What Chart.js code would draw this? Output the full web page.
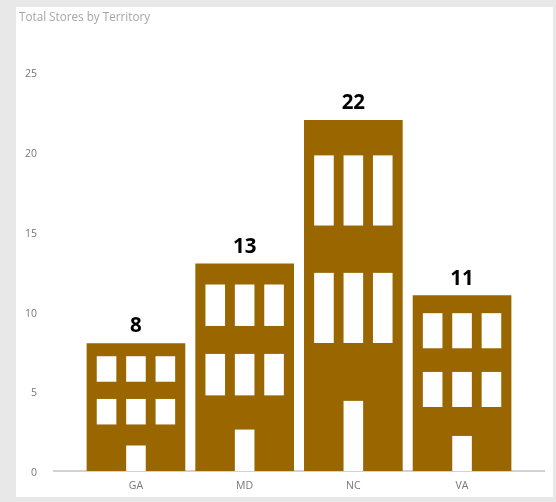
<!DOCTYPE html>
<html>
<head>
<meta charset="utf-8">
<title>Total Stores by Territory</title>
<script src="https://cdn.jsdelivr.net/npm/chart.js@4"></script>
<style>
    html, body { margin: 0; height: 100%; background: #e8e8e8; overflow: hidden; }
    #grafico { position: absolute; left: 16px; top: 7px; background: #fff; }
</style>
</head>
<body>
<canvas id="grafico" width="537" height="490"></canvas>
<script>
const territorios = ["GA", "MD", "NC", "VA"];
const tiendas = [8, 13, 22, 11];
const ticksY = [0, 5, 10, 15, 20, 25];

// Edificio: ventanas y puerta como fracciones de cada barra
const columnas = [0.1, 0.4, 0.7];
const filas = [0.1, 0.435];

const edificios = {
    id: "edificios",
    afterDatasetsDraw(chart) {
        const ctx = chart.ctx;
        chart.getDatasetMeta(0).data.forEach((barra, i) => {
            const ancho = barra.width;
            const alto = barra.base - barra.y;
            const izq = barra.x - ancho / 2;

            ctx.fillStyle = "#fff";
            filas.forEach(fila => {
                columnas.forEach(col => {
                    ctx.fillRect(izq + col * ancho, barra.y + fila * alto, 0.2 * ancho, 0.2 * alto);
                });
            });
            // Puerta
            ctx.fillRect(izq + 0.4 * ancho, barra.y + 0.8 * alto, 0.2 * ancho, 0.2 * alto);

            // Valor encima del edificio
            ctx.fillStyle = "#000";
            ctx.font = "bold 20.5px 'Open Sans'";
            ctx.textAlign = "center";
            ctx.textBaseline = "alphabetic";
            ctx.fillText(tiendas[i], barra.x, barra.y - 11);
        });
    }
};

new Chart(document.getElementById("grafico"), {
    type: "bar",
    data: {
        datasets: [{
            data: tiendas.map((valor, i) => ({ x: i, y: valor })),
            backgroundColor: "#996600",
            barThickness: 98
        }]
    },
    options: {
        responsive: false,
        animation: false,
        layout: { padding: { left: 3, right: 9, top: 0, bottom: 0 } },
        plugins: {
            legend: { display: false },
            tooltip: { enabled: false },
            title: {
                display: true,
                text: "Total Stores by Territory",
                align: "start",
                color: "#a6a6a6",
                font: { family: "'Open Sans'", size: 11.7, weight: "normal" },
                padding: { top: 4, bottom: 47.46 }
            }
        },
        scales: {
            x: {
                type: "linear",
                offset: false,
                min: -0.754,
                max: 3.754,
                grid: { display: false },
                border: { color: "#d2d2d2", width: 2 },
                afterBuildTicks: eje => { eje.ticks = territorios.map((_, i) => ({ value: i })); },
                afterFit: eje => { eje.height = 26; },
                ticks: {
                    color: "#777",
                    font: { family: "'Open Sans'", size: 10.5 },
                    padding: 1,
                    maxRotation: 0,
                    callback: valor => territorios[valor]
                }
            },
            y: {
                min: 0,
                max: 25,
                grid: { display: false },
                border: { display: false },
                afterBuildTicks: eje => { eje.ticks = ticksY.map(valor => ({ value: valor })); },
                afterFit: eje => { eje.width = 35; },
                ticks: {
                    color: "#777",
                    font: { family: "'Open Sans'", size: 10.5 },
                    padding: 9,
                    labelOffset: 2
                }
            }
        }
    },
    plugins: [edificios]
});
</script>
</body>
</html>
